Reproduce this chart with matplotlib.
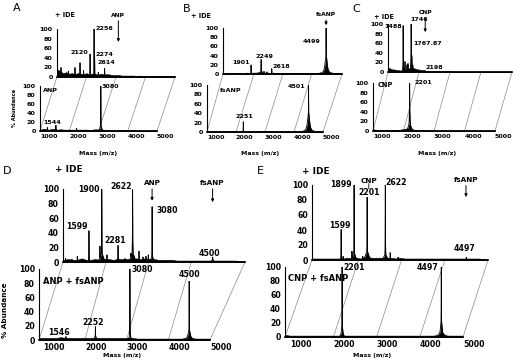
import numpy as np
import matplotlib
matplotlib.use("Agg")
import matplotlib.pyplot as plt
from matplotlib.patches import ConnectionPatch

plt.rcParams['font.family'] = ['DejaVu Sans']

# ---------------- data ----------------
# peaks: (m/z, % abundance, half-width in Da); noise: % abundance sampled evenly across the mass axis
A_top_peaks = [(1136, 20, 3), (1384, 12, 3), (1610, 20, 3), (1780, 30, 3), (1900, 14, 3),
               (2120, 48, 3), (2256, 100, 3), (2256, 10, 40), (2274, 45, 3), (2400, 10, 3), (2614, 18, 3)]
A_top_noise = [16, 12, 8, 10, 7, 8, 6, 8, 7, 6, 8, 5, 7, 6, 5, 7, 5, 6, 5, 4, 4,
               4, 3, 3, 3, 3, 3, 2, 3, 2, 2, 2, 2, 2, 2, 2, 2, 2, 2, 2, 2]
A_top_labels = ["2256", "2120", "2274", "2614"]

A_bot_peaks = [(1250, 8, 3), (1544, 13, 3), (2250, 6, 3), (3080, 100, 3), (3080, 12, 30)]
A_bot_noise = [3, 5, 4, 3, 5, 4, 3, 4, 3, 3, 3, 3, 3, 3, 3, 3, 3, 2, 3, 4, 3,
               2, 2, 2, 2, 2, 2, 2, 2, 2, 2, 2, 2, 1, 1, 1, 1, 1, 1, 1, 1]
A_bot_labels = ["3080", "1544"]

B_top_peaks = [(1901, 20, 3), (2249, 32, 3), (2249, 10, 25), (2350, 6, 3), (2450, 5, 3),
               (2618, 12, 3), (4499, 100, 3), (4499, 42, 40), (4499, 12, 90)]
B_top_noise = [2, 2, 2, 2, 2, 2, 2, 2, 3, 2, 3, 3, 4, 3, 3, 3, 2, 3, 2, 2, 2,
               2, 2, 2, 2, 2, 2, 2, 2, 2, 2, 2, 2, 2, 2, 2, 2, 2, 2, 2, 2]
B_top_labels = ["4499", "1901", "2249", "2618"]

B_bot_peaks = [(2251, 22, 3), (4501, 100, 3), (4501, 42, 40), (4501, 10, 90)]
B_bot_noise = [3, 2, 2, 2, 2, 2, 2, 2, 2, 2, 2, 2, 2, 2, 2, 2, 2, 2, 2, 2, 2,
               2, 2, 2, 2, 1, 2, 1, 2, 1, 2, 1, 1, 2, 1, 1, 1, 1, 1, 1, 1]
B_bot_labels = ["4501", "2251"]

C_top_peaks = [(1488, 97, 3), (1488, 25, 12), (1548, 22, 3), (1613, 15, 3), (1645, 18, 3),
               (1746, 100, 3), (1746, 48, 12), (1767.87, 35, 6), (1800, 15, 3), (2198, 3, 3)]
C_top_noise = [9, 6, 5, 4, 3, 5, 6, 8, 9, 6, 5, 4, 3, 2, 2, 2, 2, 2, 2, 2, 2,
               1, 1, 1, 1, 1, 1, 1, 1, 1, 1, 1, 1, 1, 1, 1, 1, 1, 1, 1, 1]
C_top_labels = ["1746", "1488", "1767.87", "2198"]

C_bot_peaks = [(2201, 100, 3), (2201, 50, 14), (2201, 18, 45)]
C_bot_noise = [4, 2, 2, 2, 2, 2, 2, 2, 2, 3, 4, 5, 4, 3, 2, 2, 2, 2, 1, 1, 1,
               1, 1, 1, 1, 1, 1, 1, 1, 1, 1, 1, 1, 1, 1, 1, 1, 1, 1, 1, 1]
C_bot_labels = ["2201"]

D_top_peaks = [(1050, 5, 3), (1200, 4, 3), (1325, 8, 3), (1599, 43, 3), (1857, 22, 3),
               (1900, 100, 3), (1900, 12, 40), (2022, 10, 3), (2281, 23, 3), (2281, 5, 25),
               (2445, 5, 3), (2580, 12, 3), (2622, 100, 3), (2622, 42, 8), (2622, 14, 40),
               (2773, 15, 3), (2867, 7, 3), (2937, 8, 3), (2990, 10, 3), (3080, 76, 3),
               (3080, 9, 25), (4500, 7, 4), (4500, 3, 30)]
D_top_noise = [3, 4, 3, 3, 5, 3, 3, 4, 3, 4, 4, 3, 4, 4, 4, 4, 5, 4, 5, 4, 4,
               3, 3, 3, 3, 2, 2, 2, 2, 2, 2, 2, 2, 2, 2, 2, 2, 2, 2, 1, 1]
D_top_labels = ["1900", "2622", "1599", "2281", "3080", "4500"]

D_bot_peaks = [(1546, 5, 3), (2252, 19, 3), (2252, 6, 20), (3080, 100, 3), (3080, 8, 20),
               (4500, 83, 3), (4500, 15, 30), (4500, 5, 80)]
D_bot_noise = [3, 3, 3, 3, 3, 4, 3, 3, 3, 3, 3, 3, 3, 3, 3, 3, 3, 3, 3, 3, 3,
               3, 3, 2, 2, 2, 2, 2, 2, 2, 2, 2, 2, 2, 2, 2, 2, 2, 2, 2, 2]
D_bot_labels = ["3080", "4500", "2252", "1546"]

E_top_peaks = [(1599, 41, 3), (1645, 5, 3), (1850, 12, 3), (1899, 100, 3), (1899, 10, 30),
               (2100, 5, 3), (2201, 84, 3), (2201, 28, 8), (2201, 12, 40), (2622, 100, 3),
               (2622, 22, 8), (2622, 8, 35), (2735, 10, 3), (2920, 4, 3), (4497, 4, 3)]
E_top_noise = [2, 2, 2, 2, 2, 2, 2, 2, 3, 2, 3, 2, 3, 3, 3, 3, 3, 3, 3, 2, 3,
               2, 2, 2, 2, 2, 2, 2, 2, 2, 2, 2, 2, 2, 2, 2, 2, 2, 2, 1, 1]
E_top_labels = ["1899", "1599", "2201", "2622", "4497"]

E_bot_peaks = [(2201, 100, 3), (2201, 20, 15), (4497, 100, 3), (4497, 25, 20), (4497, 8, 60)]
E_bot_noise = [3, 2, 2, 2, 2, 2, 2, 2, 2, 2, 2, 2, 2, 2, 2, 2, 2, 2, 2, 2, 2,
               2, 2, 2, 2, 2, 2, 2, 2, 2, 2, 2, 2, 2, 2, 2, 2, 2, 2, 2, 2]
E_bot_labels = ["2201", "4497"]

y_ticks = [0, 20, 40, 60, 80, 100]
x_ticks = [1000, 2000, 3000, 4000, 5000]
grid_masses = [2000, 3000, 4000]

# ---------------- layout ----------------
W, H = 513, 360
fig = plt.figure(figsize=(W / 100, H / 100), dpi=100)

def add_ax(box, xlim, fs, xlab=False):
    x0, x1, yb, yt = box
    ax = fig.add_axes([x0 / W, 1 - yb / H, (x1 - x0) / W, (yb - yt) / H])
    ax.set_xlim(*xlim)
    ax.set_ylim(0, 100)
    ax.patch.set_alpha(0)
    for s in ['top', 'right']:
        ax.spines[s].set_visible(False)
    ax.spines['left'].set_linewidth(0.8)
    ax.spines['bottom'].set_linewidth(1.1)
    ax.set_yticks(y_ticks)
    ax.tick_params(axis='y', length=0, pad=3, labelsize=fs)
    for t in ax.get_yticklabels():
        t.set_fontweight('bold')
    if xlab:
        ax.set_xticks(x_ticks)
        ax.tick_params(axis='x', length=0, pad=2.5, labelsize=fs)
        for t in ax.get_xticklabels():
            t.set_fontweight('bold')
            t.set_ha('left')
    else:
        ax.set_xticks([])
    return ax

def draw_spectrum(ax, peaks, noise, lw=0.6):
    lo, hi = ax.get_xlim()
    grid = np.arange(lo, hi, 1.0)
    y = np.zeros_like(grid)
    for m, h, w in peaks:
        y = np.maximum(y, h / (1 + ((grid - m) / w) ** 2))
    ax.fill_between(grid, 0, y, color='k', lw=0, clip_on=False)
    ax.plot(grid, y, color='k', lw=lw, clip_on=False, solid_joinstyle='miter')
    xs = np.linspace(lo + 10, hi - 10, len(noise))
    ax.fill_between(xs, 0, noise, color='k', lw=0.4)

def connect(ax_b, ax_t):
    kw = dict(color='#8a8a8a', lw=0.5, zorder=-1)
    for m in grid_masses:
        fig.add_artist(ConnectionPatch(xyA=(m, 0), coordsA=ax_b.transData,
                                       xyB=(m, 0), coordsB=ax_t.transData, **kw))
    for f in (0, 1):
        fig.add_artist(ConnectionPatch(xyA=(f, 0), coordsA=ax_b.transAxes,
                                       xyB=(f, 0), coordsB=ax_t.transAxes, **kw))

def labels(ax, texts, spots, fs):
    for t, (x, y, ha) in zip(texts, spots):
        ax.text(x, y, t, ha=ha, va='center', fontsize=fs, fontweight='bold', clip_on=False)

def arrow(ax, txt, m, y_tip, y_tail, fs):
    ax.annotate(txt, xy=(m, y_tip), xytext=(m, y_tail), ha='center', va='bottom',
                fontsize=fs, fontweight='bold', annotation_clip=False,
                arrowprops=dict(arrowstyle='-|>', lw=0.7, color='k', mutation_scale=4,
                                shrinkA=0, shrinkB=0))

def ftext(x, y, s, fs, bold=True, **kw):
    fig.text(x / W, 1 - y / H, s, fontsize=fs, fontweight='bold' if bold else 'normal',
             ha=kw.pop('ha', 'center'), va=kw.pop('va', 'center'), **kw)

S1 = 4.6   # small text top row
S2 = 5.6   # small text bottom row

# ---- Panel A ----
aT = add_ax((57, 175, 77, 29), (1000, 5000), S1)
aB = add_ax((40, 157, 131, 86), (1000, 5000), S1, xlab=True)
draw_spectrum(aT, A_top_peaks, A_top_noise)
draw_spectrum(aB, A_bot_peaks, A_bot_noise)
connect(aB, aT)
labels(aT, A_top_labels, [(2300, 100, 'left'), (2050, 50, 'right'),
                          (2300, 47, 'left'), (2356, 31, 'left')], S1)
labels(aB, A_bot_labels, [(3120, 100, 'left'), (1100, 20, 'left')], S1)
aB.text(1100, 91, "ANP", fontsize=4.6, fontweight='bold', va='center', ha='left')
arrow(aT, "ANP", 3080, 73, 123, 4.3)

# ---- Panel B ----
bT = add_ax((223, 342, 74, 28), (930, 5050), S1)
bB = add_ax((207, 323, 132, 85), (1000, 5000), S1, xlab=True)
draw_spectrum(bT, B_top_peaks, B_top_noise)
draw_spectrum(bB, B_bot_peaks, B_bot_noise)
connect(bB, bT)
labels(bT, B_top_labels, [(4288, 70, 'right'), (1865, 26, 'right'),
                          (2350, 37, 'center'), (2661, 17, 'left')], S1)
labels(bB, B_bot_labels, [(4379, 96, 'right'), (2293, 32, 'center')], S1)
bB.text(1448, 89, "fsANP", fontsize=4.6, fontweight='bold', va='center', ha='left')
arrow(bT, "fsANP", 4499, 106, 123, 4.3)

# ---- Panel C ----
cT = add_ax((388, 512, 72, 24), (1000, 5000), S1)
cB = add_ax((373, 495, 131, 83), (1000, 5000), S1, xlab=True)
draw_spectrum(cT, C_top_peaks, C_top_noise)
draw_spectrum(cB, C_bot_peaks, C_bot_noise)
connect(cB, cT)
labels(cT, C_top_labels, [(1710, 110, 'left'), (1450, 94, 'right'),
                          (1806, 60, 'left'), (2194, 10, 'left')], S1)
labels(cB, C_bot_labels, [(2377, 100, 'left')], S1)
cB.text(1164, 96, "CNP", fontsize=4.8, fontweight='bold', va='center', ha='left')
arrow(cT, "CNP", 2201, 83, 119, 4.3)

# ---- Panel D ----
dT = add_ax((63, 245, 262, 189), (990, 5260), S2)
dB = add_ax((39, 210, 340, 269), (900, 5000), S2, xlab=True)
draw_spectrum(dT, D_top_peaks, D_top_noise)
draw_spectrum(dB, D_bot_peaks, D_bot_noise)
connect(dB, dT)
labels(dT, D_top_labels, [(1858, 99, 'right'), (2609, 103, 'right'), (1577, 48, 'right'),
                          (2210, 29, 'center'), (3195, 70, 'left'), (4427, 12, 'center')], S2)
labels(dB, D_bot_labels, [(3130, 100, 'left'), (4500, 92, 'center'),
                          (2207, 25, 'center'), (1368, 11, 'center')], S2)
dB.text(996, 82, "ANP + fsANP", fontsize=6, fontweight='bold', va='center', ha='left')
arrow(dT, "ANP", 3080, 84, 104, 5.2)
arrow(dT, "fsANP", 4500, 82, 104, 5.2)

# ---- Panel E ----
eT = add_ax((312, 488, 260, 185), (925, 5000), S2)
eB = add_ax((285, 463, 337, 267), (880, 5000), S2, xlab=True)
draw_spectrum(eT, E_top_peaks, E_top_noise)
draw_spectrum(eB, E_bot_peaks, E_bot_noise)
connect(eB, eT)
labels(eT, E_top_labels, [(1851, 100, 'right'), (1560, 46, 'center'), (2240, 90, 'center'),
                          (2615, 103, 'left'), (4455, 15, 'center')], S2)
labels(eB, E_bot_labels, [(2222, 100, 'left'), (4421, 99, 'right')], S2)
eB.text(949, 84, "CNP + fsANP", fontsize=6, fontweight='bold', va='center', ha='left')
eT.text(2240, 105, "CNP", fontsize=5.2, fontweight='bold', va='center', ha='center')
eT.annotate("", xy=(2240, 95), xytext=(2240, 102), annotation_clip=False,
            arrowprops=dict(arrowstyle='-', lw=0.6, color='k', shrinkA=0, shrinkB=0))
arrow(eT, "fsANP", 4490, 84, 103, 5.2)

# ---- figure-level texts ----
for (x, y, s) in [(17, 8, "A"), (187, 9, "B"), (356, 9, "C"), (7, 171, "D"), (260, 171, "E")]:
    ftext(x, y, s, 8, bold=False)
for (x, y, fs) in [(65, 15, 4.7), (201, 16, 4.7), (384, 17, 4.7), (69, 170, 6.4), (316, 171, 6.4)]:
    ftext(x, y, "+ IDE", fs)
for (x, y) in [(98, 153), (260, 153), (437, 153), (122, 355), (372, 355)]:
    ftext(x, y, "Mass (m/z)", 4.5)
ftext(15, 108, "% Abundance", 3.6, rotation=90)
ftext(5, 310, "% Abundance", 5.2, rotation=90)

fig.savefig("out.png", dpi=100)
